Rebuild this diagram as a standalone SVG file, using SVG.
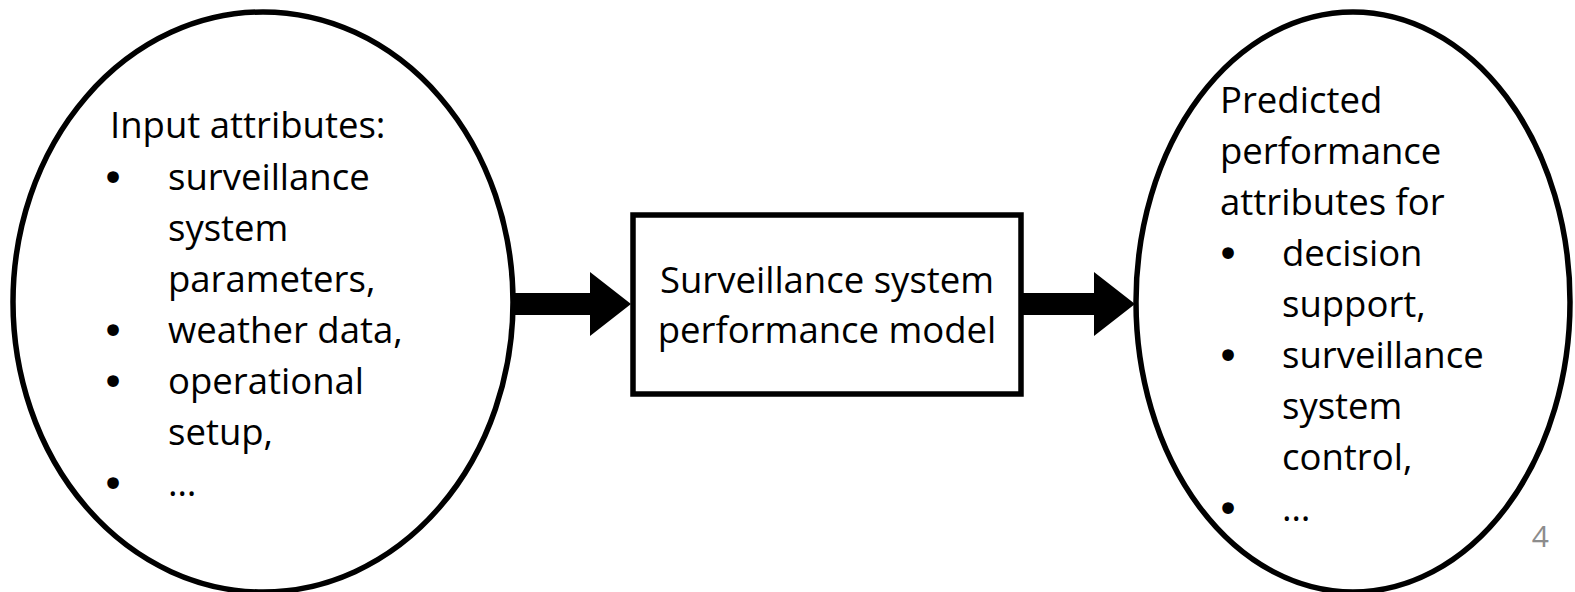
<svg xmlns="http://www.w3.org/2000/svg" width="1575" height="592" viewBox="0 0 1575 592">
<style>
.shape{fill:#ffffff;stroke:#000000;stroke-width:5.5}
.t{font-family:"Open Sans","Liberation Sans",sans-serif;font-size:36.5px;fill:#000000}
.b{font-family:"DejaVu Sans","Open Sans",sans-serif;font-size:40px;fill:#000000;text-anchor:middle}
.arrow{fill:#000000;stroke:none}
.pg{font-family:"Open Sans","Liberation Sans",sans-serif;font-size:30px;fill:#8c8c8c}
</style>
<rect width="1575" height="592" fill="#ffffff"/>
<g id="input-attributes">
<ellipse class="shape" cx="263" cy="302" rx="250" ry="290"/>
<text class="t" x="110" y="138">Input attributes:</text>
<text class="b" x="113" y="192">•</text>
<text class="t" x="168" y="190">surveillance</text>
<text class="t" x="168" y="241">system</text>
<text class="t" x="168" y="292">parameters,</text>
<text class="b" x="113" y="345">•</text>
<text class="t" x="168" y="343">weather data,</text>
<text class="b" x="113" y="396">•</text>
<text class="t" x="168" y="394">operational</text>
<text class="t" x="168" y="445">setup,</text>
<text class="b" x="113" y="498">•</text>
<text class="t" x="168" y="496">…</text>
</g>
<g id="performance-model">
<rect class="shape" x="633" y="215" width="388" height="179"/>
<text class="t" x="827" y="293" text-anchor="middle">Surveillance system</text>
<text class="t" x="827" y="343" text-anchor="middle">performance model</text>
</g>
<g id="predicted-attributes">
<ellipse class="shape" cx="1353" cy="302" rx="217" ry="290"/>
<text class="t" x="1220" y="113">Predicted</text>
<text class="t" x="1220" y="164">performance</text>
<text class="t" x="1220" y="215">attributes for</text>
<text class="b" x="1228" y="268">•</text>
<text class="t" x="1282" y="266">decision</text>
<text class="t" x="1282" y="317">support,</text>
<text class="b" x="1228" y="370">•</text>
<text class="t" x="1282" y="368">surveillance</text>
<text class="t" x="1282" y="419">system</text>
<text class="t" x="1282" y="470">control,</text>
<text class="b" x="1228" y="523">•</text>
<text class="t" x="1282" y="521">…</text>
</g>
<g id="connectors">
<polygon class="arrow" points="513,293 590,293 590,272 631,304 590,336 590,315 513,315"/>
<polygon class="arrow" points="1021,293 1094,293 1094,272 1135,304 1094,336 1094,315 1021,315"/>
</g>
<text id="page-number" class="pg" x="1549" y="547" text-anchor="end">4</text>
</svg>
